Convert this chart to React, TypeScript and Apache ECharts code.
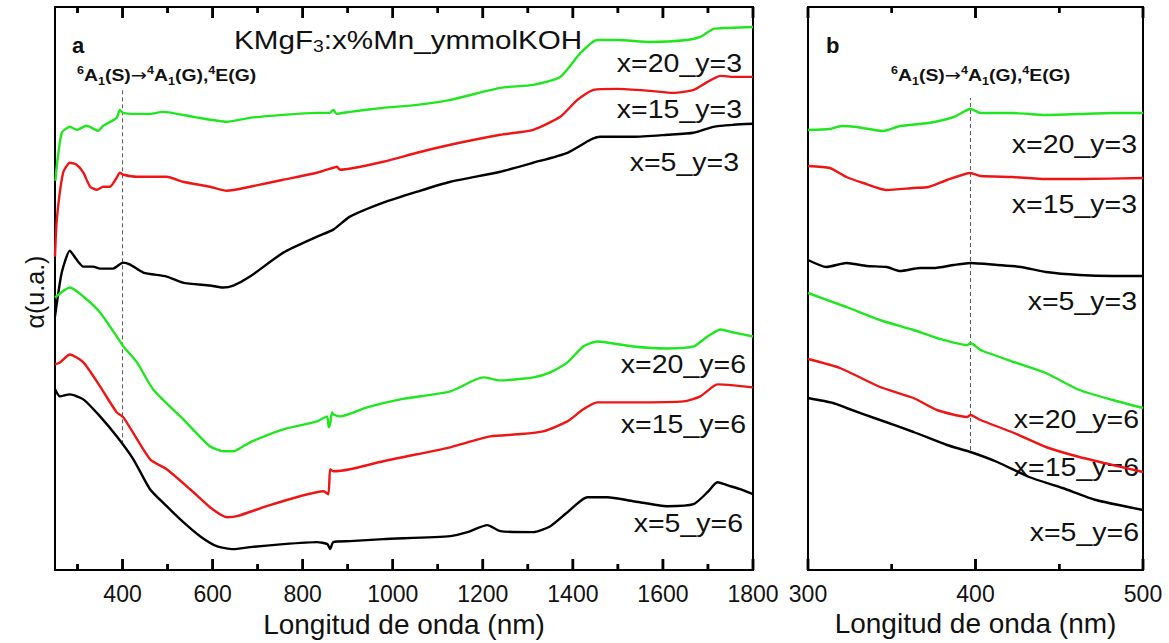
import React, { useEffect, useRef } from "react";
import * as echarts from "echarts";

type P = [number, number];

// ---------- Panel a (250–1800 nm), arbitrary absorbance units ----------
const A_G3: P[] = [[251,390],[254,405],[265,438],[283,444],[298,441],[320,445],[346,440],[357,445],[387,453],[394,461],[401,458],[430,457],[461,457],[490,459],[557,454],[632,449],[683,453],[757,456],[832,458],[860,458],[868,461],[875,457],[905,459],[979,463],[1054,466],[1128,471],[1239,483],[1312,486],[1372,494],[1417,518],[1454,531],[1499,531],[1572,529],[1654,531],[1683,534],[1712,542],[1743,543],[1800,544]];
const A_R3: P[] = [[250,314],[254,351],[268,398],[283,408],[298,406],[313,398],[328,384],[343,381],[357,384],[372,384],[387,393],[394,398],[402,396],[432,394],[498,394],[534,389],[594,384],[632,380],[683,384],[757,391],[832,398],[868,403],[876,404],[883,401],[979,409],[1054,418],[1128,426],[1239,436],[1312,441],[1372,454],[1410,471],[1446,481],[1499,482],[1572,480],[1623,478],[1668,481],[1699,489],[1728,495],[1757,494],[1800,494]];
const A_K3: P[] = [[250,254],[265,298],[283,320],[298,311],[313,304],[335,304],[350,302],[379,302],[401,308],[417,306],[446,298],[498,294],[534,288],[594,285],[623,283],[646,285],[683,294],[757,318],[832,334],[868,341],[905,354],[979,368],[1054,379],[1128,389],[1239,399],[1312,408],[1388,418],[1439,431],[1461,434],[1534,434],[1610,436],[1668,438],[1712,444],[1757,446],[1800,447]];
const A_G6: P[] = [[250,273],[283,283],[313,274],[350,258],[387,234],[402,224],[432,208],[468,181],[535,151],[594,124],[624,119],[646,119],[683,128],[757,141],[832,149],[854,154],[858,143],[861,146],[865,158],[868,156],[883,154],[943,163],[1017,171],[1128,179],[1201,193],[1239,190],[1312,193],[1350,198],[1388,208],[1423,224],[1454,229],[1534,224],[1610,222],[1668,224],[1699,234],[1728,241],[1757,238],[1800,234]];
const A_R6: P[] = [[250,206],[261,208],[283,216],[313,208],[350,184],[387,158],[402,153],[461,111],[498,101],[550,81],[594,63],[632,53],[654,54],[720,64],[794,74],[846,79],[857,76],[861,101],[868,99],[905,101],[979,109],[1054,116],[1128,123],[1166,128],[1217,134],[1277,136],[1334,139],[1388,149],[1423,161],[1454,168],[1534,168],[1646,169],[1683,174],[1721,186],[1757,185],[1800,183]];
const A_K6: P[] = [[250,181],[261,174],[283,176],[313,171],[350,154],[387,134],[424,111],[461,81],[498,64],[535,48],[572,34],[609,24],[646,21],[683,23],[757,26],[832,28],[855,26],[861,21],[868,28],[905,29],[979,31],[1128,34],[1166,38],[1210,45],[1239,39],[1312,38],[1350,44],[1388,58],[1432,73],[1477,73],[1534,69],[1610,64],[1668,66],[1699,78],[1721,88],[1750,84],[1772,81],[1800,76]];
const A_DASH: P[] = [[400,126],[400,481]];

// ---------- Panel b (300–500 nm) ----------
const B_G3: P[] = [[300,440],[313,441],[320,444],[329,443],[345,439],[355,444],[372,447],[387,453],[397,461],[403,457],[422,457],[442,455],[462,456],[482,457],[500,457]];
const B_R3: P[] = [[300,404],[313,402],[323,393],[333,387],[347,380],[363,382],[372,383],[383,390],[397,397],[403,394],[422,393],[442,391],[462,391],[500,392]];
const B_K3: P[] = [[300,310],[311,303],[323,307],[335,304],[347,303],[355,299],[367,302],[375,302],[387,305],[397,307],[413,305],[427,303],[442,298],[462,295],[482,294],[500,294]];
const B_G6: P[] = [[300,277],[323,263],[343,250],[363,240],[377,232],[395,225],[397,227],[403,220],[423,208],[442,197],[462,180],[482,170],[500,162]];
const B_R6: P[] = [[300,211],[319,202],[343,183],[363,172],[377,160],[395,153],[397,155],[403,150],[423,137],[442,123],[462,113],[482,105],[500,98]];
const B_K6: P[] = [[300,172],[315,167],[323,162],[343,150],[363,138],[383,125],[397,118],[413,108],[432,93],[452,82],[472,70],[500,60]];
const B_DASH: P[] = [[397,120],[397,472]];

const A_MAJOR = [400, 600, 800, 1000, 1200, 1400, 1600, 1800];
const A_MINOR = [300, 500, 700, 900, 1100, 1300, 1500, 1700];
const B_MAJOR = [300, 400, 500];
const B_MINOR = [350, 450];

const GREEN = "#1fe61f";
const RED = "#ee1515";
const BLACK = "#000000";
const FONT = "Liberation Sans, Arial, sans-serif";
const SX = 1.14;
const A_YMAX = 564;
const B_YMAX = 563;
// tick lengths in y-axis units (1 unit per pixel on both panels)
const MAJOR_LEN = 11;
const MINOR_LEN = 6;

export default function App() {
  const ref = useRef<HTMLDivElement>(null);
  useEffect(() => {
    if (!ref.current) return;
    const chart = echarts.init(ref.current, undefined, { renderer: "svg" });

    const line = (data: P[], color: string, xi: number, yi: number) => ({
      type: "line",
      data,
      xAxisIndex: xi,
      yAxisIndex: yi,
      showSymbol: false,
      smooth: 0.2,
      lineStyle: { color, width: 2.4 },
      silent: true,
    });
    const dash = (data: P[], xi: number, yi: number) => ({
      type: "line",
      data,
      xAxisIndex: xi,
      yAxisIndex: yi,
      showSymbol: false,
      lineStyle: { color: "#555", width: 1, type: [4, 3] },
      silent: true,
    });
    // inward tick marks on bottom and top frame edges, as short segments on the axis scale
    const tickSeg = (data: P[], xi: number, yi: number) => ({
      type: "line",
      data,
      xAxisIndex: xi,
      yAxisIndex: yi,
      showSymbol: false,
      clip: false,
      z: 5,
      lineStyle: { color: "#000", width: 2.5 },
      silent: true,
    });
    const tickSet = (vals: number[], len: number, xi: number, yi: number, yMax: number) =>
      vals.flatMap((v) => [
        tickSeg([[v, 0], [v, len]], xi, yi),
        tickSeg([[v, yMax], [v, yMax - len]], xi, yi),
      ]);
    // same ticks as thin rectangles (scatter symbols), centred half a tick inside the frame
    const tickRects = (vals: number[], len: number, xi: number, yi: number, yMax: number) => ({
      type: "scatter",
      xAxisIndex: xi,
      yAxisIndex: yi,
      clip: false,
      z: 6,
      silent: true,
      symbol: "rect",
      symbolSize: [2.5, len],
      itemStyle: { color: "#000", opacity: 1 },
      data: vals.flatMap((v) => [[v, len / 2], [v, yMax - len / 2]]),
    });

    const tickLabel = { show: true, fontSize: 23, color: "#111", fontFamily: FONT, margin: 12, formatter: (v: number) => String(v) };
    const axisName = { fontSize: 28, color: "#111", fontFamily: FONT };

    const xAx = (grid: number, min: number, max: number, tv: number[]) => ({
      gridIndex: grid, type: "value", position: "bottom", min, max,
      axisLine: { show: false }, splitLine: { show: false },
      axisTick: { show: false },
      axisLabel: { ...tickLabel, customValues: tv, showMinLabel: true, showMaxLabel: true },
      name: "Longitud de onda (nm)", nameLocation: "middle", nameGap: 37, nameTextStyle: axisName,
    });

    const lbl = (text: string, x: number, y: number) => ({
      type: "text",
      x,
      y,
      scaleX: SX,
      style: { text, fontSize: 25, fontFamily: FONT, fill: "#111", align: "right", verticalAlign: "middle" },
    });
    const trans = (x: number) => ({
      type: "text",
      x,
      y: 75,
      scaleX: SX,
      style: {
        text: "{p|6}{b|A}{s|1}{b|(S)}{a|→}{p|4}{b|A}{s|1}{b|(G),}{p|4}{b|E(G)}",
        fontFamily: FONT,
        fill: "#111",
        align: "left",
        verticalAlign: "middle",
        rich: {
          b: { fontSize: 17, fontWeight: "bold", fontFamily: FONT, fill: "#111", lineHeight: 22 },
          a: { fontSize: 17, fontFamily: "DejaVu Sans", fill: "#111", lineHeight: 22 },
          p: { fontSize: 11, fontWeight: "bold", fontFamily: FONT, fill: "#111", lineHeight: 11, verticalAlign: "top" },
          s: { fontSize: 11, fontWeight: "bold", fontFamily: FONT, fill: "#111", lineHeight: 11, verticalAlign: "bottom" },
        },
      },
    });

    chart.setOption({
      animation: false,
      backgroundColor: "#fff",
      grid: [
        { left: 55, top: 7, width: 698, height: 564, show: true, backgroundColor: "transparent", borderColor: "#000", borderWidth: 2, containLabel: false },
        { left: 808, top: 7, width: 335, height: 563, show: true, backgroundColor: "transparent", borderColor: "#000", borderWidth: 2, containLabel: false },
      ],
      xAxis: [xAx(0, 250, 1800, A_MAJOR), xAx(1, 300, 500, B_MAJOR)],
      yAxis: [
        { gridIndex: 0, type: "value", min: 0, max: A_YMAX, show: false },
        { gridIndex: 1, type: "value", min: 0, max: B_YMAX, show: false },
      ],
      series: [
        ...tickSet(A_MAJOR, MAJOR_LEN, 0, 0, A_YMAX),
        ...tickSet(A_MINOR, MINOR_LEN, 0, 0, A_YMAX),
        ...tickSet(B_MAJOR, MAJOR_LEN, 1, 1, B_YMAX),
        ...tickSet(B_MINOR, MINOR_LEN, 1, 1, B_YMAX),
        tickRects(A_MAJOR, MAJOR_LEN, 0, 0, A_YMAX),
        tickRects(A_MINOR, MINOR_LEN, 0, 0, A_YMAX),
        tickRects(B_MAJOR, MAJOR_LEN, 1, 1, B_YMAX),
        tickRects(B_MINOR, MINOR_LEN, 1, 1, B_YMAX),
        dash(A_DASH, 0, 0),
        line(A_G3, GREEN, 0, 0),
        line(A_R3, RED, 0, 0),
        line(A_K3, BLACK, 0, 0),
        line(A_G6, GREEN, 0, 0),
        line(A_R6, RED, 0, 0),
        line(A_K6, BLACK, 0, 0),
        dash(B_DASH, 1, 1),
        line(B_G3, GREEN, 1, 1),
        line(B_R3, RED, 1, 1),
        line(B_K3, BLACK, 1, 1),
        line(B_G6, GREEN, 1, 1),
        line(B_R6, RED, 1, 1),
        line(B_K6, BLACK, 1, 1),
      ],
      graphic: [
        {
          type: "text", x: 35, y: 292, rotation: Math.PI / 2,
          style: { text: "α(u.a.)", fontSize: 25, fontFamily: FONT, fill: "#111", align: "center", verticalAlign: "middle" },
        },
        {
          type: "text", x: 72, y: 45,
          style: { text: "a", fontSize: 22, fontWeight: "bold", fontFamily: FONT, fill: "#111", align: "left", verticalAlign: "middle" },
        },
        {
          type: "text", x: 826, y: 45,
          style: { text: "b", fontSize: 22, fontWeight: "bold", fontFamily: FONT, fill: "#111", align: "left", verticalAlign: "middle" },
        },
        {
          type: "text", x: 234, y: 40, scaleX: SX,
          style: {
            text: "{n|KMgF}{s|3}{n|:x%Mn_ymmolKOH}",
            fontFamily: FONT, fill: "#111", align: "left", verticalAlign: "middle",
            rich: {
              n: { fontSize: 26, fontFamily: FONT, fill: "#111", lineHeight: 30 },
              s: { fontSize: 17, fontFamily: FONT, fill: "#111", lineHeight: 17, verticalAlign: "bottom" },
            },
          },
        },
        trans(77),
        trans(891),
        lbl("x=20_y=3", 742, 64),
        lbl("x=15_y=3", 742, 110),
        lbl("x=5_y=3", 739, 163),
        lbl("x=20_y=6", 746, 365),
        lbl("x=15_y=6", 746, 425),
        lbl("x=5_y=6", 743, 524),
        lbl("x=20_y=3", 1137, 145),
        lbl("x=15_y=3", 1137, 205),
        lbl("x=5_y=3", 1137, 302),
        lbl("x=20_y=6", 1139, 420),
        lbl("x=15_y=6", 1139, 468),
        lbl("x=5_y=6", 1139, 533),
      ],
    });
    return () => chart.dispose();
  }, []);
  return <div ref={ref} style={{ position: "absolute", left: 0, top: 0, width: 1169, height: 643 }} />;
}
